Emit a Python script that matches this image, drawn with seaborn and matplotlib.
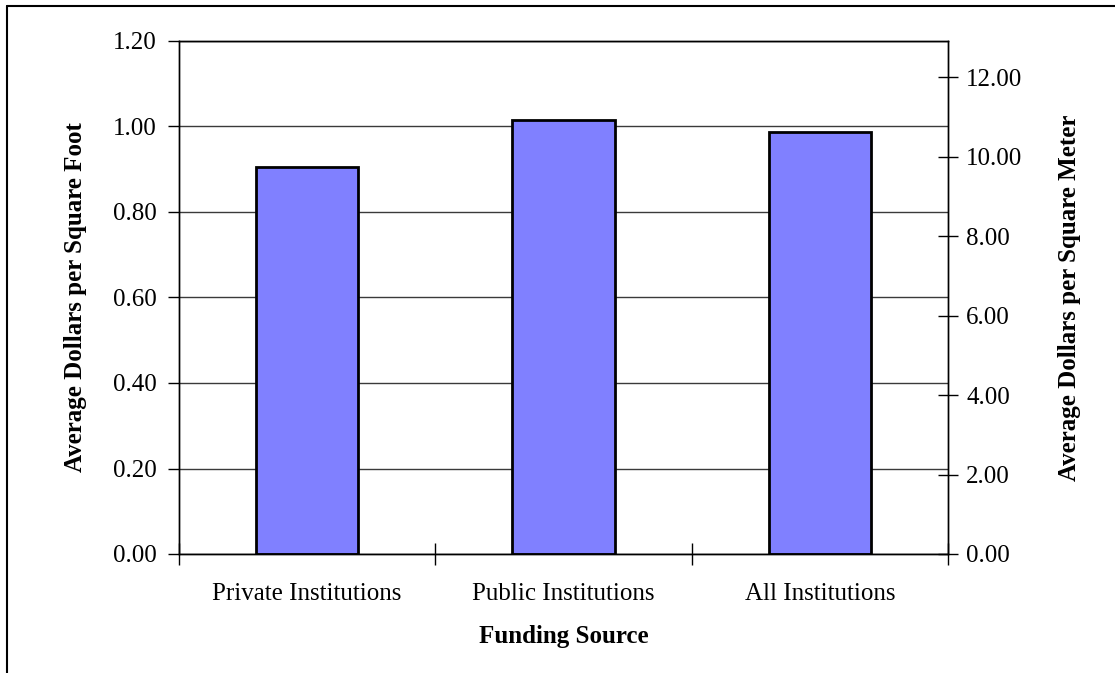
import matplotlib
matplotlib.use("Agg")
import matplotlib.pyplot as plt
from matplotlib.lines import Line2D
from matplotlib.ticker import MultipleLocator, FixedLocator, NullFormatter
import seaborn as sns
import pandas as pd

# Average custodial cost by funding source
categories = ["Private Institutions", "Public Institutions", "All Institutions"]
dollars_per_sqft = [0.905, 1.015, 0.988]
SQFT_PER_SQM = 10.7639

sns.set_theme(style="white")
plt.rcParams["font.family"] = ["Liberation Serif", "DejaVu Serif"]

df = pd.DataFrame({"Funding Source": categories, "Dollars": dollars_per_sqft})

fig = plt.figure(figsize=(11.15, 6.73), dpi=100)
ax = fig.add_axes([179 / 1115, 1 - 554 / 673, (948 - 179) / 1115, (554 - 41) / 673])

sns.barplot(data=df, x="Funding Source", y="Dollars", color="#8080FF",
            saturation=1, edgecolor="black", linewidth=2.0, width=0.4, ax=ax)

ax.set_xlim(-0.5, 2.5)
ax.set_ylim(0, 1.2)
ax.yaxis.set_major_locator(MultipleLocator(0.2))
ax.set_yticklabels([f"{v:.2f}" for v in ax.get_yticks()])
ax.grid(axis="y", color="#3a3a3a", linewidth=1.0)
ax.set_axisbelow(True)
for s in ax.spines.values():
    s.set_visible(True)
    s.set_color("black")
    s.set_linewidth(1.0)

ax.tick_params(axis="y", which="major", direction="out", length=8, width=1,
               color="black", labelsize=18, pad=8, labelcolor="black")
ax.tick_params(axis="x", which="major", length=0, labelsize=18, pad=21,
               labelcolor="black")
ax.xaxis.set_minor_locator(FixedLocator([-0.5, 0.5, 1.5, 2.5]))
ax.xaxis.set_minor_formatter(NullFormatter())
ax.tick_params(axis="x", which="minor", direction="inout", length=16, width=1,
               color="black", bottom=True)

ax.set_xlabel("Funding Source", fontsize=18, fontweight="bold", labelpad=14,
              color="black")
ax.set_ylabel("Average Dollars per Square Foot", fontsize=18,
              fontweight="bold", labelpad=19, color="black")

# Secondary scale in dollars per square meter
ax2 = ax.twinx()
ax2.set_ylim(0, 1.2 * SQFT_PER_SQM)
ax2.yaxis.set_major_locator(MultipleLocator(2))
ax2.set_yticks(ax2.get_yticks())
ax2.set_yticklabels([f"{v:.2f}" for v in ax2.get_yticks()])
ax2.set_ylim(0, 1.2 * SQFT_PER_SQM)
ax2.tick_params(axis="y", direction="inout", length=14, width=1,
                color="black", labelsize=18, pad=6, labelcolor="black")
ax2.set_ylabel("Average Dollars per Square Meter", fontsize=18,
               fontweight="bold", labelpad=26, color="black")
ax2.grid(False)
for s in ax2.spines.values():
    s.set_visible(True)
    s.set_color("black")
    s.set_linewidth(1.0)

# Frame around the chart area
fig.add_artist(Line2D([7 / 1115, 7 / 1115], [0, 1 - 6 / 673],
                      transform=fig.transFigure, color="black", linewidth=1.5))
fig.add_artist(Line2D([7 / 1115, 1], [1 - 6 / 673, 1 - 6 / 673],
                      transform=fig.transFigure, color="black", linewidth=1.5))

fig.savefig("out.png", dpi=100, facecolor="white")
